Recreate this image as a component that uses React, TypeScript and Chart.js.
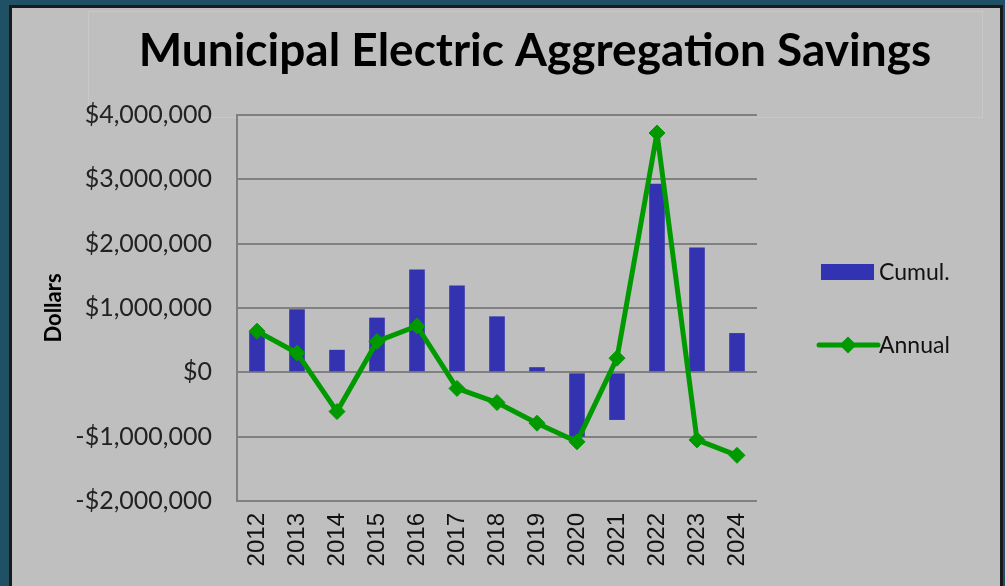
import React, { useEffect, useRef } from "react";
import { Chart, registerables } from "chart.js";

Chart.register(...registerables);

const years = ["2012", "2013", "2014", "2015", "2016", "2017", "2018", "2019", "2020", "2021", "2022", "2023", "2024"];
const cumulValues = [630000, 980000, 350000, 850000, 1600000, 1350000, 870000, 80000, -1000000, -740000, 2930000, 1940000, 610000];
const annualValues = [640000, 300000, -610000, 480000, 720000, -250000, -470000, -790000, -1080000, 220000, 3720000, -1050000, -1290000];
const yTickValues = [-2000000, -1000000, 0, 1000000, 2000000, 3000000, 4000000];

const TITLE = "Municipal Electric Aggregation Savings";
const BAR_COLOR = "#3333b2";
const LINE_COLOR = "#009a00";
const GRID_COLOR = "#808080";

const fmt = (v: number) => {
  const s = "$" + Math.abs(v).toLocaleString("en-US");
  return v < 0 ? "-" + s : s;
};

const titlePlugin = {
  id: "customTitle",
  afterDraw(chart: any) {
    const ctx = chart.ctx;
    ctx.save();
    ctx.fillStyle = "#000";
    ctx.font = "bold 46px Lato";
    ctx.textAlign = "center";
    ctx.textBaseline = "alphabetic";
    ctx.fillText(TITLE, 523, 58);
    ctx.restore();
  },
};

const legendPlugin = {
  id: "customLegend",
  afterDraw(chart: any) {
    const ctx = chart.ctx;
    const area = chart.chartArea;
    const mid = (area.top + area.bottom) / 2;
    const x0 = area.right + 62;
    const y1 = mid - 36;
    const y2 = mid + 37;
    ctx.save();
    // Cumul.
    ctx.fillStyle = BAR_COLOR;
    ctx.fillRect(x0 + 2, y1 - 8, 53, 16);
    ctx.fillStyle = "#111";
    ctx.font = "23px Lato";
    ctx.textAlign = "left";
    ctx.textBaseline = "middle";
    ctx.fillText("Cumul.", x0 + 60, y1 + 1);
    // Annual
    ctx.strokeStyle = LINE_COLOR;
    ctx.lineWidth = 5;
    ctx.lineCap = "round";
    ctx.beginPath();
    ctx.moveTo(x0, y2);
    ctx.lineTo(x0 + 59, y2);
    ctx.stroke();
    const cx = x0 + 29;
    const r = 8.5;
    ctx.fillStyle = LINE_COLOR;
    ctx.beginPath();
    ctx.moveTo(cx, y2 - r);
    ctx.lineTo(cx + r, y2);
    ctx.lineTo(cx, y2 + r);
    ctx.lineTo(cx - r, y2);
    ctx.closePath();
    ctx.fill();
    ctx.fillStyle = "#111";
    ctx.fillText("Annual", x0 + 60, y2 + 1);
    ctx.restore();
  },
};

export default function App() {
  const ref = useRef<HTMLCanvasElement | null>(null);

  useEffect(() => {
    if (!ref.current) return;
    const chart = new Chart(ref.current, {
      type: "bar",
      data: {
        labels: years,
        datasets: [
          {
            type: "line",
            label: "Annual",
            data: annualValues,
            borderColor: LINE_COLOR,
            backgroundColor: LINE_COLOR,
            borderWidth: 5,
            borderJoinStyle: "round",
            pointStyle: "rectRot",
            pointRadius: 8,
            pointBorderWidth: 1,
            pointBackgroundColor: LINE_COLOR,
            pointBorderColor: LINE_COLOR,
            tension: 0,
            order: 0,
          } as any,
          {
            type: "bar",
            label: "Cumul.",
            data: cumulValues,
            backgroundColor: BAR_COLOR,
            borderWidth: 0,
            categoryPercentage: 1,
            barPercentage: 0.39,
            order: 1,
          },
        ],
      },
      plugins: [titlePlugin, legendPlugin],
      options: {
        animation: false,
        responsive: false,
        maintainAspectRatio: false,
        layout: { padding: { left: 23, right: 243, top: 107, bottom: 0 } },
        plugins: {
          legend: { display: false },
          title: { display: false },
          tooltip: { enabled: false },
        },
        scales: {
          x: {
            grid: { display: false, drawTicks: false },
            border: { display: false },
            ticks: {
              minRotation: 90,
              maxRotation: 90,
              padding: 12,
              color: "#111",
              font: { family: "'Liberation Sans', Arial", size: 24 },
            },
            afterFit(scale: any) {
              scale.height = 85;
            },
          },
          y: {
            min: -2000000,
            max: 4000000,
            afterBuildTicks(scale: any) {
              scale.ticks = yTickValues.map((v) => ({ value: v }));
            },
            grid: { color: GRID_COLOR, lineWidth: 2, drawTicks: false },
            border: { display: true, color: GRID_COLOR, width: 2 },
            ticks: {
              padding: 25,
              color: "#222",
              font: { family: "Lato", size: 25 },
              callback: (v: any) => fmt(Number(v)),
            },
            title: {
              display: true,
              text: "Dollars",
              color: "#000",
              font: { family: "Lato", size: 22, weight: "bold" },
              padding: { top: 6, bottom: 4 },
            },
            afterFit(scale: any) {
              scale.width = 202;
            },
          },
        },
      },
    });
    return () => chart.destroy();
  }, []);

  return (
    <div style={{ position: "fixed", inset: 0, background: "#1f5064", overflow: "hidden" }}>
      <div
        style={{
          position: "absolute",
          left: 9,
          top: 5,
          width: 988,
          height: 590,
          border: "3px solid #1a1a1a",
          borderBottom: "none",
          background: "#bfbfbf",
          overflow: "hidden",
        }}
      >
        <div
          style={{
            position: "absolute",
            left: 76,
            top: 3,
            width: 893,
            height: 105,
            border: "1px solid #c8c8c8",
            pointerEvents: "none",
          }}
        />
        <canvas ref={ref} width={988} height={578} style={{ position: "absolute", left: 0, top: 0, display: "block" }} />
      </div>
    </div>
  );
}
